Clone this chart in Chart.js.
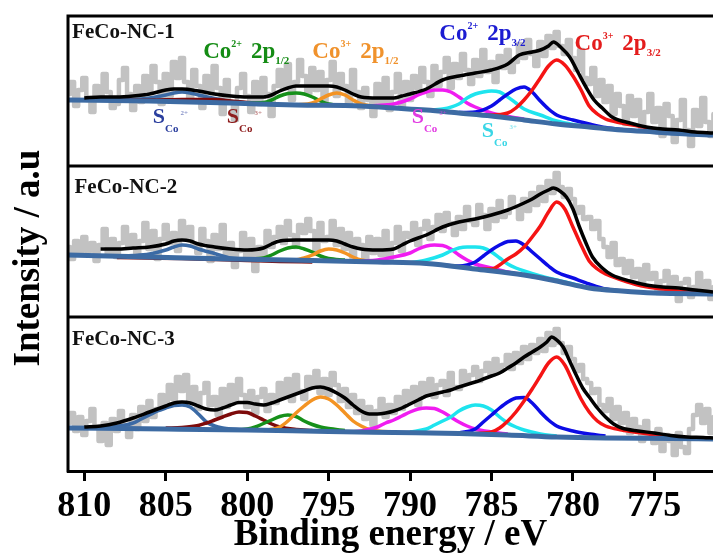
<!DOCTYPE html>
<html lang="en">
<head>
<meta charset="UTF-8">
<title>Co 2p XPS</title>
<script src="https://cdn.jsdelivr.net/npm/chart.js"></script>
<style>
  body { margin: 0; background: #fff; }
  canvas { display: block; }
</style>
</head>
<body>
<canvas id="xpsChart" width="713" height="559"></canvas>
<script>
  // binding energy axis
  const tickValues = [810, 805, 800, 795, 790, 785, 780, 775];
  const panelNames = ['FeCo-NC-1', 'FeCo-NC-2', 'FeCo-NC-3'];
  const panelOffsets = [305, 154, 0]; // vertical shift of each spectrum
  const RAW_START = 811, RAW_STEP = 0.25; // measured points, 811 -> 771.25 eV, one row per eV

  // ---------- FeCo-NC-1 ----------
  const raw1 = [
    72, 84, 60, 76,   88, 66, 54, 80,   70, 92, 74, 58,   62, 86, 98, 72,   56, 80, 64, 90,
    76, 100, 84, 62,  92, 70, 104, 88,  108, 84, 66, 96,  80, 58, 90, 74,   100, 78, 52, 86,
    64, 46, 78, 92,   70, 54, 84, 62,   88, 72, 50, 80,   96, 78, 102, 66,  84, 106, 90, 72,
    98, 76, 94, 64,   86, 104, 70, 92,  80, 62, 96, 74,   58, 78, 66, 50,   82, 64, 88, 56,
    74, 92, 60, 84,   66, 90, 78, 98,   84, 70, 100, 80,  94, 108, 78, 102, 88, 112, 96, 82,
    106, 90, 116, 94, 104, 84, 110, 98, 116, 94, 104, 122, 108, 126, 112, 100, 124, 110, 130, 118,
    134, 120, 112, 126, 108, 96, 116, 88, 82, 98, 70, 86,  64, 80, 52, 72,   60, 42, 70, 50,
    66, 38, 54, 72,   44, 58, 30, 62,   50, 24, 46, 66,   36, 20, 56, 40,   68, 44, 30, 52
  ];
  const bg1 = [[811,66],[806,65],[801,63],[797,61],[793,60],[791,58],[789,56],[787,53],[785,50],[783,46],[781,42],[779,39],[777,36],[775,34],[773,32],[771.4,31]];
  const sat2Hi1 = [[809,66],[807,66.5],[806,68],[805,71],[804.5,73],[804,74],[803.5,73],[803,71],[802,67.5],[801,64.5],[800,63]];
  const sat3Hi1 = [[808,66],[806,66],[804,66.5],[802,66.5],[801,65],[800,63.5],[799,62.5]];
  const co2p12_1 = [[800,63],[799,63.5],[798.5,66],[798,70],[797.5,72.5],[797,73],[796.5,72],[796,69],[795.5,65],[795,62],[794,60.5]];
  const co3p12_1 = [[797,61],[796,63],[795.5,67],[795,71],[794.5,73],[794,71],[793.5,66],[793,62],[792,59.5]];
  const sat2Lo1 = [[793,60],[792,60.5],[791,62],[790,67],[789.5,71],[789,74],[788.5,76],[788,76],[787.5,74],[787,69],[786.5,63],[786,59],[785,53],[784,49.5],[783,47]];
  const sat3Lo1 = [[789,56],[788,57],[787,62],[786.5,68],[786,72],[785.5,74],[785,75],[784.5,74],[784,69],[783.5,63],[783,57],[782,51],[781,45],[780,41.5],[779,39.5]];
  const co2p32_1 = [[787,53.5],[786,54],[785,60],[784.5,66],[784,72],[783.5,77],[783,79],[782.5,74],[782,65],[781.5,57],[781,51],[780,46],[779,42],[778,38.5],[777,36.5],[776,35]];
  const co3p32_1 = [[786,52],[785,51],[784,53],[783.5,58],[783,66],[782.5,76],[782,88],[781.5,100],[781,106],[780.5,101],[780,90],[779.5,76],[779,60],[778.5,52],[778,47],[777,43],[776,40],[775,37],[774,35],[773,33],[772,31.5]];
  const fit1 = [[810,68],[809,69],[808,69],[807,70],[806,72],[805,76],[804.5,77],[804,77],[803,75],[802,72],[801,70],[800,69],[799,69],[798.5,71],[798,75],[797.5,78],[797,80],[796,80],[795,80],[794.5,79],[794,76],[793.5,72],[793,69],[792,68],[791,68],[790.5,70],[790,72],[789,77],[788,86],[787,90],[786,93],[785,96],[784,102],[783.3,111],[782.5,114],[782,116],[781.5,120],[781.2,124],[780.7,118],[780.2,109],[779.7,94],[779.2,79],[778.7,66],[778.2,58],[777.6,49],[776.5,43],[775.5,39],[774.5,37],[773.5,36],[772.5,34],[771.4,33]];

  // ---------- FeCo-NC-2 ----------
  const raw2 = [
    70, 58, 76, 64,   80, 66, 74, 56,   72, 88, 62, 78,   60, 74, 90, 70,   82, 64, 76, 94,
    68, 86, 58, 78,   92, 74, 84, 66,   96, 80, 90, 72,   64, 88, 76, 56,   82, 68, 92, 60,
    74, 50, 66, 84,   58, 78, 46, 70,   62, 86, 70, 80,   90, 74, 96, 82,   70, 92, 84, 98,
    86, 66, 94, 76,   80, 96, 72, 88,   68, 84, 60, 78,   72, 56, 80, 64,   78, 62, 86, 58,
    74, 90, 66, 84,   80, 94, 72, 88,   96, 78, 90, 102,  86, 104, 94, 82,  100, 88, 110, 96,
    92, 112, 102, 88, 108, 96, 116, 100, 104, 120, 110, 98, 118, 106, 124, 112, 130, 116, 136, 124,
    144, 130, 120, 128, 118, 104, 110, 98, 100, 88, 96, 78, 70, 60, 74, 52,  58, 44, 56, 40,
    48, 32, 52, 38,   44, 24, 36, 46,   28, 40, 16, 34,   38, 20, 30, 44,   24, 36, 18, 30
  ];
  const bg2 = [[811,62],[806,60],[801,58],[796,56.5],[792,55],[789,53.5],[786,48],[783,42],[781,36],[779,29],[777,26],[775,24],[771.4,23]];
  const sat2Hi2 = [[808,61],[807,61.5],[806,63],[805,67],[804.5,70],[804,72],[803.5,71],[803,68],[802,63.5],[801,59],[800,58]];
  const sat3Hi2 = [[808,59.5],[806,59],[804,58.5],[802,57.5],[800,56.5],[798,55.5],[796,55]];
  const co2p12_2 = [[800,58],[799,59],[798.5,62],[798,66],[797.5,69],[797,70],[796.5,68],[796,65],[795.5,61],[795,58.5],[794,57]];
  const co3p12_2 = [[797,57],[796.5,59],[796,62],[795.5,66],[795,68],[794.5,67],[794,64],[793.5,60],[793,57],[792,55.5]];
  const sat2Lo2 = [[793,56],[792,57],[791,60],[790,64],[789.5,68],[789,71],[788.5,72],[788,71.5],[787.5,68],[787,62],[786.5,57],[786,53],[785,49],[784,45],[783,42],[782,39]];
  const sat3Lo2 = [[790,54],[789,57],[788,62],[787.5,66],[787,69],[786.5,70],[786,70],[785.5,69],[785,65],[784.5,59],[784,53],[783.5,49],[783,46],[782,41],[781,37],[780,33],[779,29]];
  const co2p32_2 = [[788,52],[787,51],[786,55],[785.5,61],[785,67],[784.5,72],[784,75.5],[783.5,76],[783,72],[782.5,65],[782,58],[781.5,51],[781,45],[780,39],[779,33],[778,28],[777,26]];
  const co3p32_2 = [[786,48],[785,48],[784.5,52],[784,58],[783.5,63],[783,70],[782.5,80],[782,91],[781.5,105],[781,115],[780.5,108],[780,90],[779.5,72],[779,56],[778.5,48],[778,43],[777,37],[776,32],[775,29],[774,27],[773,25],[772,24]];
  const fit2 = [[809,68],[808,68],[807,69],[806,70],[805,73],[804.5,76],[804,77],[803.5,76],[803,73],[802,70],[801,68],[800,67],[799,69],[798.5,73],[798,76],[797,77],[796,77],[795,77],[794.5,76],[794,73],[793.5,70],[793,68],[792,67],[791,68],[790.5,72],[790,76],[789,82],[788,90],[787,95],[786,98],[785,102],[784,107],[783,114],[782.5,118],[782,123],[781.5,127],[781.2,129],[780.8,126],[780.4,120],[780,108],[779.6,90],[779.2,74],[778.8,60],[778.2,49],[777.6,42],[776.5,36],[775.5,32],[774.5,30],[773.5,29],[772.5,27],[771.4,25]];

  // ---------- FeCo-NC-3 ----------
  const raw3 = [
    48, 58, 40, 54,   36, 50, 62, 44,   30, 48, 26, 52,   40, 60, 46, 34,   56, 42, 64, 50,
    70, 54, 62, 76,   66, 86, 72, 94,   80, 96, 70, 84,   62, 78, 88, 66,   74, 56, 82, 64,
    86, 70, 92, 76,   64, 80, 58, 74,   82, 60, 76, 68,   88, 74, 92, 70,   96, 80, 72, 94,
    84, 100, 78, 92,  76, 98, 86, 70,   82, 64, 76, 58,   70, 52, 64, 46,   60, 72, 54, 66,
    58, 74, 62, 80,   70, 84, 66, 88,   78, 92, 74, 86,   90, 76, 98, 84,   82, 100, 88, 96,
    104, 90, 100, 108, 96, 112, 100, 106, 116, 102, 118, 108, 124, 112, 126, 118, 132, 120, 138, 126,
    142, 128, 118, 124, 112, 100, 106, 92, 88, 78, 82, 66,  60, 72, 52, 64,   48, 58, 38, 52,
    44, 30, 50, 36,   28, 42, 20, 36,   30, 16, 38, 24,   18, 42, 56, 66,   48, 62, 38, 54
  ];
  const bg3 = [[811,43],[805,42],[800,41],[795,39.5],[791,38.5],[787,37.5],[784,36],[781,34],[778,33],[774,32.5],[771.4,32]];
  const sat2Hi3 = [[809,43],[808,44.5],[807,48],[806.5,52],[806,56],[805.5,60],[805,63],[804.5,65.5],[804,66],[803.5,64],[803,57],[802.5,49],[802,45],[801.5,43],[801,42],[800,41]];
  const sat3Hi3 = [[805,43],[804,43.5],[803,45.5],[802.5,48],[802,51],[801.5,54],[801,57],[800.5,59],[800,58.5],[799.5,55],[799,51],[798.5,47],[798,44],[797,41.5],[796,40.5]];
  const co2p12_3 = [[801,41],[800,42],[799.5,44],[799,47.5],[798.5,51],[798,54.5],[797.5,56],[797,54.5],[796.5,50],[796,46.5],[795.5,44],[795,42.5],[794,40.5]];
  const co3p12_3 = [[799,40.5],[798,44],[797.5,50],[797,58],[796.5,65],[796,71],[795.5,74],[795,72],[794.5,66],[794,58],[793.5,50],[793,45],[792.5,41.5],[792,40],[791,39]];
  const sat2Lo3 = [[794,39],[793,40],[792,44],[791.5,48],[791,51],[790.5,55],[790,59],[789.5,62],[789,63],[788.5,62.5],[788,59],[787.5,54],[787,49],[786.5,45],[786,42],[785,39],[784,37]];
  const sat3Lo3 = [[790,39],[789,42],[788.5,46],[788,50],[787.5,54],[787,60],[786.5,64],[786,66],[785.5,65],[785,61],[784.5,54],[784,48],[783.5,44],[783,41],[782,37],[781,35]];
  const co2p32_3 = [[787,38],[786,42],[785.5,49],[785,56],[784.5,63],[784,69],[783.5,73],[783,73.5],[782.5,68],[782,59],[781.5,51],[781,45],[780,40],[779,37],[778,35]];
  const co3p32_3 = [[786,37.5],[785,39],[784.5,43],[784,50],[783.5,59],[783,70],[782.5,82],[782,95],[781.5,108],[781,114],[780.5,106],[780,89],[779.5,72],[779,59],[778.5,50],[778,45],[777,41],[776,38.5],[775,36],[774,34.5],[773,33.5]];
  const fit3 = [[810,44],[809,45],[808,48],[807,53],[806,59],[805,65],[804.5,68],[804,69],[803.5,68],[803,65],[802.5,62],[802,61],[801.5,63],[801,66],[800.5,68.5],[800,68.5],[799.5,67],[799,66],[798.5,68],[798,71],[797.5,74],[797,77],[796.5,80],[796,83],[795.5,84],[795,82],[794.5,78],[794,73],[793.5,66],[793,60],[792.5,57],[792,57],[791.5,58],[791,60],[790.5,63],[790,67],[789.5,71],[789,75],[788,79],[787.5,81],[787,84],[786,89],[785.5,92],[785,95],[784.5,98],[784,103],[783.5,108],[783,114],[782.5,119],[782,124],[781.6,129],[781.3,134],[781,131],[780.6,124],[780.2,110],[779.8,96],[779.4,83],[779,74],[778.5,63],[778,54],[777.5,47],[777,43],[776,40],[775,38],[774,35.5],[773,34],[772,33.5],[771.4,33]];

  // component colours: S(Co2+), S(Co3+), Co2+ 2p1/2, Co3+ 2p1/2, S(Co2+), S(Co3+), Co2+ 2p3/2, Co3+ 2p3/2
  const compColors = ['#3b6aa5', '#7d0a0a', '#16901a', '#f39323', '#f01cf0', '#1ee4ee', '#0c0ce6', '#f51414'];

  const panels = [
    { raw: raw1, fit: fit1, bg: bg1, comps: [sat2Hi1, sat3Hi1, co2p12_1, co3p12_1, sat2Lo1, sat3Lo1, co2p32_1, co3p32_1] },
    { raw: raw2, fit: fit2, bg: bg2, comps: [sat2Hi2, sat3Hi2, co2p12_2, co3p12_2, sat2Lo2, sat3Lo2, co2p32_2, co3p32_2] },
    { raw: raw3, fit: fit3, bg: bg3, comps: [sat2Hi3, sat3Hi3, co2p12_3, co3p12_3, sat2Lo3, sat3Lo3, co2p32_3, co3p32_3] }
  ];

  // text annotations (energy, height within panel)
  const peakLabels = [
    { panel: 0, e: 802.7, v: 108, color: '#158c15', ion: '2+', orbital: '1/2' },
    { panel: 0, e: 796.0, v: 108, color: '#f0922c', ion: '3+', orbital: '1/2' },
    { panel: 0, e: 788.2, v: 126, color: '#1c1cd2', ion: '2+', orbital: '3/2' },
    { panel: 0, e: 779.9, v: 116, color: '#e41c1c', ion: '3+', orbital: '3/2' }
  ];
  const satLabels = [
    { panel: 0, e: 805.8, v: 43, color: '#2b3f9e', ion: '2+' },
    { panel: 0, e: 801.25, v: 43, color: '#8e1d1d', ion: '3+' },
    { panel: 0, e: 789.9, v: 43, color: '#e23ce2', ion: '2+' },
    { panel: 0, e: 785.6, v: 29, color: '#3ad6e6', ion: '3+' }
  ];
  const nameLabels = [
    { panel: 0, e: 810.75, v: 128 },
    { panel: 1, e: 810.6, v: 124 },
    { panel: 2, e: 810.75, v: 126 }
  ];

  const FONT = '"Liberation Serif", "Times New Roman", serif';

  const toPoints = (pairs, offset) => pairs.map(([e, v]) => ({ x: e, y: v + offset }));
  const rawPoints = (values, offset) => values.map((v, i) => ({ x: RAW_START - i * RAW_STEP, y: v + offset }));

  const datasets = [];
  panels.forEach((p, i) => {
    const off = panelOffsets[i];
    datasets.push({ data: rawPoints(p.raw, off), borderColor: '#c2c2c2', borderWidth: 4.5, stepped: 'middle', order: 20 });
    p.comps.forEach((c, j) => {
      datasets.push({ data: toPoints(c, off), borderColor: compColors[j], borderWidth: 3.5, cubicInterpolationMode: 'monotone', order: 10 - j });
    });
    datasets.push({ data: toPoints(p.bg, off), borderColor: '#3d6ba3', borderWidth: 5, cubicInterpolationMode: 'monotone', order: 1 });
    datasets.push({ data: toPoints(p.fit, off), borderColor: '#000', borderWidth: 3.5, cubicInterpolationMode: 'monotone', order: 0 });
  });

  function drawParts(ctx, x, y, parts, color) {
    ctx.fillStyle = color;
    ctx.textBaseline = 'alphabetic';
    ctx.textAlign = 'left';
    parts.forEach(p => {
      ctx.font = 'bold ' + p.size + 'px ' + FONT;
      ctx.globalAlpha = p.alpha || 1;
      ctx.fillText(p.text, x, y + (p.dy || 0));
      x += ctx.measureText(p.text).width + (p.gap || 0);
    });
    ctx.globalAlpha = 1;
  }

  // frame, panel dividers and all free text
  const decorations = {
    id: 'decorations',
    afterDraw(chart) {
      const { ctx, chartArea: a, scales: { x, y } } = chart;
      const px = (e) => x.getPixelForValue(e);
      const py = (panel, v) => y.getPixelForValue(v + panelOffsets[panel]);

      ctx.save();
      ctx.strokeStyle = '#000';
      ctx.lineWidth = 3;
      ctx.beginPath();
      ctx.moveTo(a.left, a.bottom + 1.5);
      ctx.lineTo(a.left, a.top);
      ctx.lineTo(a.right, a.top);
      [panelOffsets[0], panelOffsets[1]].forEach(v => {
        const yy = y.getPixelForValue(v);
        ctx.moveTo(a.left, yy);
        ctx.lineTo(a.right, yy);
      });
      ctx.stroke();

      nameLabels.forEach(l => {
        drawParts(ctx, px(l.e), py(l.panel, l.v), [{ text: panelNames[l.panel], size: 21 }], '#111');
      });
      peakLabels.forEach(l => {
        drawParts(ctx, px(l.e), py(l.panel, l.v), [
          { text: 'Co', size: 23 },
          { text: l.ion, size: 10, dy: -11, gap: 9 },
          { text: '2p', size: 23 },
          { text: l.orbital, size: 11, dy: 6 }
        ], l.color);
      });
      satLabels.forEach(l => {
        drawParts(ctx, px(l.e), py(l.panel, l.v), [
          { text: 'S', size: 22 },
          { text: 'Co', size: 11, dy: 9, gap: 2 },
          { text: l.ion, size: 7, dy: -8, alpha: 0.6 }
        ], l.color);
      });

      // y axis title
      ctx.translate(29, 258);
      ctx.rotate(-Math.PI / 2);
      ctx.fillStyle = '#000';
      ctx.font = 'bold 37px ' + FONT;
      ctx.textAlign = 'center';
      ctx.textBaseline = 'middle';
      ctx.fillText('Intensity / a.u', 0, 0);
      ctx.restore();
    }
  };

  new Chart(document.getElementById('xpsChart'), {
    type: 'line',
    data: { datasets },
    options: {
      responsive: false,
      animation: false,
      layout: { padding: { left: 68, top: 16, right: 0, bottom: 0 } },
      elements: { point: { radius: 0 }, line: { borderJoinStyle: 'round' } },
      plugins: { legend: { display: false }, tooltip: { enabled: false } },
      scales: {
        x: {
          type: 'linear',
          reverse: true,
          min: 771.4,
          max: 811,
          afterBuildTicks: axis => { axis.ticks = tickValues.map(v => ({ value: v })); },
          afterFit: axis => { axis.height = 88; },
          grid: { drawOnChartArea: false, drawTicks: true, tickLength: 10, tickWidth: 3, tickColor: '#000' },
          border: { display: true, color: '#000', width: 3 },
          ticks: { color: '#000', padding: 4, maxRotation: 0, autoSkip: false, font: { family: FONT, size: 36, weight: 'bold' } },
          title: { display: true, text: 'Binding energy / eV', color: '#000', padding: { top: 0, bottom: 1 }, font: { family: FONT, size: 37, weight: 'bold' } }
        },
        y: { display: false, min: 0, max: 455 }
      }
    },
    plugins: [decorations]
  });
</script>
</body>
</html>
